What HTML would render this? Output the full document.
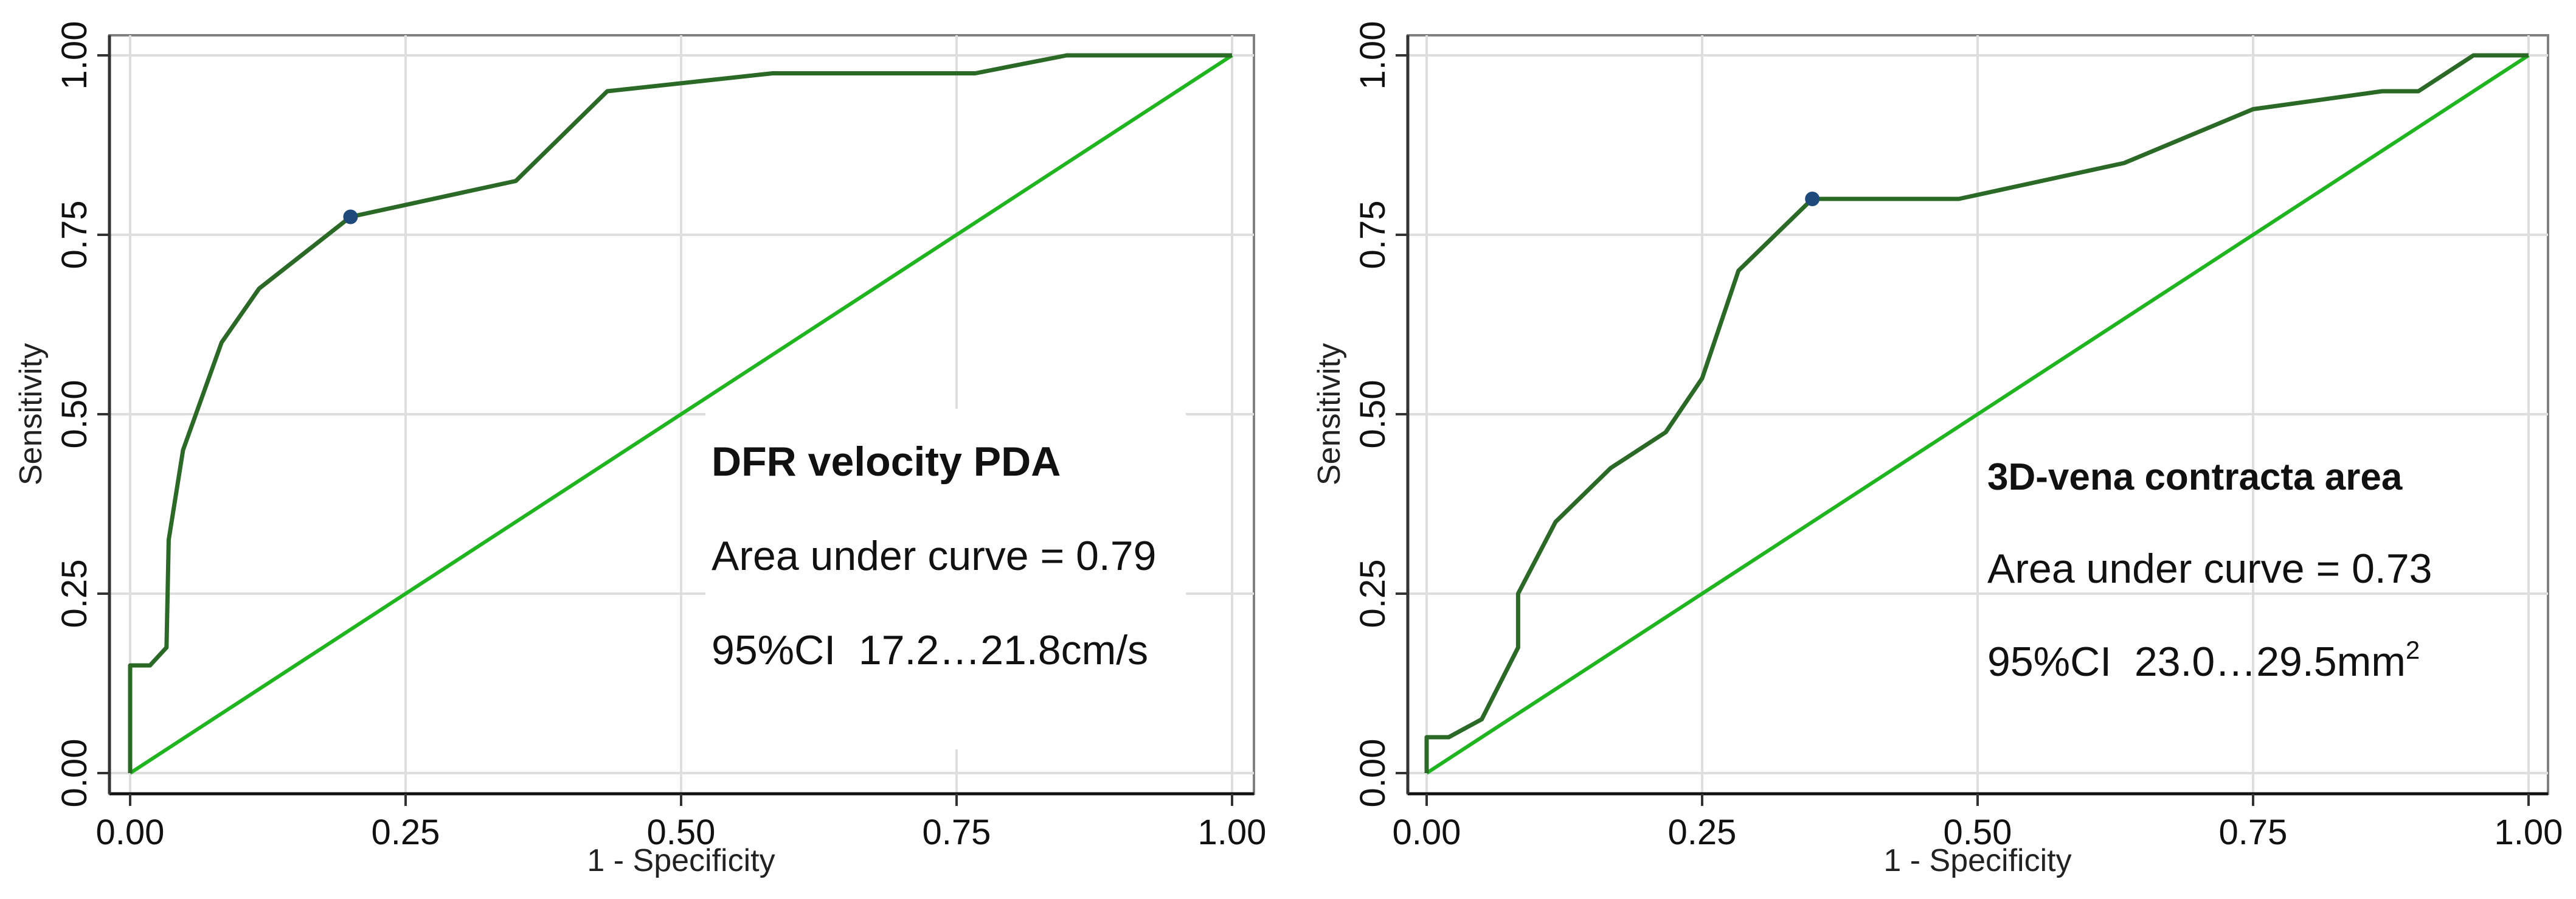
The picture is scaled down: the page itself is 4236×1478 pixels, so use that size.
<!DOCTYPE html>
<html><head><meta charset="utf-8"><style>
html,body{margin:0;padding:0;background:#fff;}
svg{display:block;}
</style></head><body>
<svg id="c" width="4236" height="1478" xmlns="http://www.w3.org/2000/svg"></svg>
<script>
const ticks=[0,0.25,0.5,0.75,1];
const tickLabels=["0.00","0.25","0.50","0.75","1.00"];
const leftFpr=[0,0,0.018,0.033,0.035,0.048,0.083,0.117,0.2,0.35,0.433,0.583,0.767,0.85,1];
const leftSens=[0,0.15,0.15,0.175,0.325,0.45,0.6,0.675,0.775,0.825,0.95,0.975,0.975,1,1];
const leftCut=[0.2,0.775];
const rightFpr=[0,0,0.02,0.05,0.083,0.083,0.117,0.167,0.217,0.25,0.283,0.35,0.483,0.633,0.75,0.867,0.9,0.95,1];
const rightSens=[0,0.05,0.05,0.075,0.175,0.25,0.35,0.425,0.475,0.55,0.7,0.8,0.8,0.85,0.925,0.95,0.95,1,1];
const rightCut=[0.35,0.8];
const NS="http://www.w3.org/2000/svg";
const svg=document.getElementById('c');
function mk(tag,attrs,parent){const e=document.createElementNS(NS,tag);for(const k in attrs)e.setAttribute(k,attrs[k]);(parent||svg).appendChild(e);return e;}
function panel(p,fpr,sens,cut,texts){
  const x0=p.x0,x1=p.x0+1812,yb=1271,yt=91;
  const sx=v=>x0+v*(x1-x0), sy=v=>yb-v*(yb-yt);
  const g=mk('g',{});
  
  
  const fr=mk('rect',{x:p.ax,y:58,width:p.fr-p.ax,height:1305-58,fill:'none',stroke:'#808080','stroke-width':4},g);
  
  ticks.forEach((t,i)=>{
    const gx=mk('line',{x1:sx(t),x2:sx(t),y1:58,y2:1305,stroke:'#dedede','stroke-width':4},g);
    
    const gy=mk('line',{x1:p.ax,x2:p.fr,y1:sy(t),y2:sy(t),stroke:'#dedede','stroke-width':4},g);
    
  });
  const bg=mk('rect',{x:p.tx-10,y:p.ty-110,width:p.bw,height:560,fill:'#fff'},g);
  
  const xa=mk('line',{x1:p.ax,x2:p.fr,y1:1305,y2:1305,stroke:'#111','stroke-width':5},g);
  
  const ya=mk('line',{x1:p.ax,x2:p.ax,y1:58,y2:1305,stroke:'#333','stroke-width':5},g);
  
  ticks.forEach((t,i)=>{
    const tk=mk('line',{x1:sx(t),x2:sx(t),y1:1305,y2:1325,stroke:'#333','stroke-width':4},g);
    
    const tl=mk('text',{x:sx(t),y:1388,'text-anchor':'middle','font-family':'Liberation Sans, sans-serif','font-size':58,fill:'#111'},g);
    tl.textContent=tickLabels[i];
    
    const ty=mk('line',{x1:p.ax-20,x2:p.ax,y1:sy(t),y2:sy(t),stroke:'#333','stroke-width':4},g);
    
    const yl=mk('text',{x:0,y:0,transform:`translate(${p.ax-38},${sy(t)}) rotate(-90)`,'text-anchor':'middle','font-family':'Liberation Sans, sans-serif','font-size':58,fill:'#111'},g);
    yl.textContent=tickLabels[i];
    
  });
  const xt=mk('text',{x:(x0+x1)/2,y:1432,'text-anchor':'middle','font-family':'Liberation Sans, sans-serif','font-size':52,fill:'#222'},g);
  xt.textContent='1 - Specificity';
  
  const yt2=mk('text',{x:0,y:0,transform:`translate(${p.ax-112},${sy(0.5)}) rotate(-90)`,'text-anchor':'middle','font-family':'Liberation Sans, sans-serif','font-size':52,fill:'#222'},g);
  yt2.textContent='Sensitivity';
  
  const d=mk('line',{x1:sx(0),y1:sy(0),x2:sx(1),y2:sy(1),stroke:'#1fb51f','stroke-width':6},g);
  
  const pts=fpr.map((v,i)=>sx(v)+','+sy(sens[i])).join(' ');
  const c=mk('polyline',{points:pts,fill:'none',stroke:'#2a6a26','stroke-width':7,'stroke-linejoin':'round'},g);
  
  const pt=mk('circle',{cx:sx(cut[0]),cy:sy(cut[1]),r:12,fill:'#1d4a7a'},g);
  
  texts.forEach((t,i)=>{
    const e=mk('text',{x:p.tx,y:p.ty+i*p.dy,'font-family':'Liberation Sans, sans-serif','font-size':i==0?p.tfs:p.fs,'font-weight':i==0?'bold':'normal',fill:'#111',style:'white-space:pre'},g);
    e.textContent=t;
    
    
    if(t.endsWith('mm')){const s=mk('tspan',{dy:-28,'font-size':42},e);s.textContent='2';}
  });
}
panel({name:'left-panel',x0:214,ax:180,fr:2062,tx:1170,ty:782,dy:155,bw:790,tfs:68,fs:68},leftFpr,leftSens,leftCut,
  ['DFR velocity PDA','Area under curve = 0.79','95%CI  17.2…21.8cm/s']);
panel({name:'right-panel',x0:2346,ax:2315,fr:4190,tx:3268,ty:805,dy:153,bw:0,tfs:62,fs:68},rightFpr,rightSens,rightCut,
  ['3D-vena contracta area','Area under curve = 0.73','95%CI  23.0…29.5mm']);
</script>
</body></html>
